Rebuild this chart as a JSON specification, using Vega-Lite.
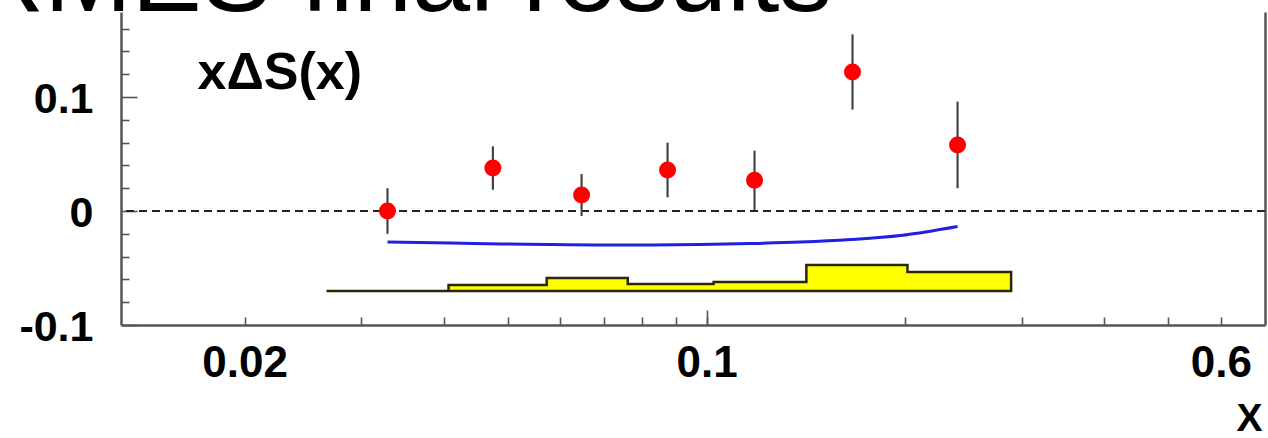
{
  "$schema": "https://vega.github.io/schema/vega-lite/v6.json",
  "width": 1144,
  "height": 313,
  "autosize": {"type": "none"},
  "padding": {"left": 121, "top": 12, "right": 3, "bottom": 113},
  "background": "white",
  "config": {
    "view": {"stroke": null},
    "axis": {"grid": false}
  },
  "datasets": {
    "points": [
      {"x": 0.0329, "v": 0.000, "lo": -0.020, "hi": 0.020},
      {"x": 0.0475, "v": 0.0377, "lo": 0.0187, "hi": 0.0567},
      {"x": 0.0647, "v": 0.014, "lo": -0.0044, "hi": 0.0324},
      {"x": 0.0873, "v": 0.036, "lo": 0.012, "hi": 0.060},
      {"x": 0.1182, "v": 0.027, "lo": 0.001, "hi": 0.053},
      {"x": 0.1663, "v": 0.122, "lo": 0.089, "hi": 0.155},
      {"x": 0.2398, "v": 0.058, "lo": 0.020, "hi": 0.096}
    ],
    "curve": [
      {"x": 0.0329, "v": -0.0272},
      {"x": 0.0410, "v": -0.0280},
      {"x": 0.0488, "v": -0.0289},
      {"x": 0.0581, "v": -0.0294},
      {"x": 0.0691, "v": -0.0298},
      {"x": 0.0823, "v": -0.0298},
      {"x": 0.0979, "v": -0.0294},
      {"x": 0.1166, "v": -0.0285},
      {"x": 0.1387, "v": -0.0272},
      {"x": 0.1651, "v": -0.0250},
      {"x": 0.1966, "v": -0.0215},
      {"x": 0.2398, "v": -0.0136}
    ],
    "bins": [
      {"lo": 0.0407, "hi": 0.0573, "top": -0.065},
      {"lo": 0.0573, "hi": 0.0760, "top": -0.0588},
      {"lo": 0.0760, "hi": 0.1025, "top": -0.064},
      {"lo": 0.1025, "hi": 0.1416, "top": -0.0623},
      {"lo": 0.1416, "hi": 0.2014, "top": -0.0474},
      {"lo": 0.2014, "hi": 0.289, "top": -0.0535}
    ],
    "outline": [
      {"i": 0, "x": 0.0266, "v": -0.0702},
      {"i": 1, "x": 0.0407, "v": -0.0702},
      {"i": 2, "x": 0.0407, "v": -0.065},
      {"i": 3, "x": 0.0573, "v": -0.065},
      {"i": 4, "x": 0.0573, "v": -0.0588},
      {"i": 5, "x": 0.0760, "v": -0.0588},
      {"i": 6, "x": 0.0760, "v": -0.064},
      {"i": 7, "x": 0.1025, "v": -0.064},
      {"i": 8, "x": 0.1025, "v": -0.0623},
      {"i": 9, "x": 0.1416, "v": -0.0623},
      {"i": 10, "x": 0.1416, "v": -0.0474},
      {"i": 11, "x": 0.2014, "v": -0.0474},
      {"i": 12, "x": 0.2014, "v": -0.0535},
      {"i": 13, "x": 0.289, "v": -0.0535},
      {"i": 14, "x": 0.289, "v": -0.0702},
      {"i": 15, "x": 0.0407, "v": -0.0702}
    ],
    "zero": [{"level": 0}]
  },
  "layer": [
    {
      "data": {"name": "bins"},
      "mark": {"type": "rect", "color": "#ffff00", "strokeWidth": 0},
      "encoding": {
        "x": {
          "field": "lo", "type": "quantitative",
          "scale": {"type": "log", "domain": [0.013, 0.7], "nice": false},
          "axis": {
            "orient": "bottom",
            "title": "X",
            "titleFont": "Liberation Sans",
            "titleFontWeight": "bold",
            "titleFontSize": 39,
            "titleColor": "#000000",
            "titleAlign": "right",
            "titleBaseline": "alphabetic",
            "titleX": 1141,
            "titleY": 105,
            "values": [0.02, 0.03, 0.04, 0.05, 0.06, 0.07, 0.08, 0.09, 0.1, 0.2, 0.3, 0.4, 0.5, 0.6],
            "labelExpr": "datum.value == 0.02 ? '0.02' : datum.value == 0.1 ? '0.1' : datum.value == 0.6 ? '0.6' : ''",
            "labelFont": "Liberation Sans",
            "labelFontWeight": "bold",
            "labelFontSize": 44,
            "labelColor": "#000000",
            "labelFlush": false,
            "labelOverlap": false,
            "labelBaseline": "top",
            "labelPadding": 24,
            "tickSize": -8,
            "tickColor": "#555555",
            "tickWidth": 1.6,
            "domainColor": "#555555",
            "domainWidth": 2.5
          }
        },
        "x2": {"field": "hi"},
        "y": {
          "field": "top", "type": "quantitative",
          "scale": {"domain": [-0.1, 0.1746], "nice": false, "zero": false},
          "axis": {
            "orient": "left",
            "title": "xΔS(x)",
            "titleFont": "Liberation Sans",
            "titleFontWeight": "bold",
            "titleFontSize": 52,
            "titleColor": "#000000",
            "titleAngle": 0,
            "titleAlign": "left",
            "titleBaseline": "alphabetic",
            "titleAnchor": null,
            "titleX": 76,
            "titleY": 76,
            "values": [-0.1, -0.08, -0.06, -0.04, -0.02, 0, 0.02, 0.04, 0.06, 0.08, 0.1, 0.12, 0.14, 0.16],
            "labelExpr": "abs(datum.value) < 1e-9 ? '0' : abs(datum.value - 0.1) < 1e-9 ? '0.1' : abs(datum.value + 0.1) < 1e-9 ? '-0.1' : ''",
            "labelFont": "Liberation Sans",
            "labelFontWeight": "bold",
            "labelFontSize": 43,
            "labelColor": "#000000",
            "labelFlush": false,
            "labelOverlap": false,
            "labelBaseline": "middle",
            "labelOffset": 2,
            "labelPadding": 44,
            "tickSize": {"condition": {"test": "abs(datum.value) < 1e-9 || abs(abs(datum.value) - 0.1) < 1e-9", "value": -16}, "value": -8},
            "tickColor": "#555555",
            "tickWidth": 1.6,
            "domainColor": "#555555",
            "domainWidth": 2.5
          }
        },
        "y2": {"datum": -0.0702}
      }
    },
    {
      "data": {"name": "outline"},
      "mark": {"type": "line", "color": "#2a2800", "strokeWidth": 2.5},
      "encoding": {
        "x": {
          "field": "x", "type": "quantitative",
          "scale": {"type": "log", "domain": [0.013, 0.7], "nice": false},
          "axis": {
            "orient": "top",
            "title": "HERMES final results",
            "titleFont": "Liberation Sans",
            "titleFontWeight": "normal",
            "titleFontSize": 105,
            "titleColor": "#000000",
            "titleAlign": "left",
            "titleBaseline": "alphabetic",
            "titleAngle": 0,
            "titleX": -299,
            "titleY": -2,
            "labels": false,
            "ticks": false,
            "domain": false,
            "grid": false
          }
        },
        "y": {"field": "v", "type": "quantitative", "scale": {"domain": [-0.1, 0.1746], "nice": false, "zero": false}, "axis": null},
        "order": {"field": "i", "type": "quantitative"}
      }
    },
    {
      "data": {"name": "curve"},
      "mark": {"type": "line", "color": "#2020e0", "strokeWidth": 3, "interpolate": "monotone"},
      "encoding": {
        "x": {
          "field": "x", "type": "quantitative",
          "scale": {"type": "log", "domain": [0.013, 0.7], "nice": false},
          "axis": {"orient": "bottom", "title": null, "values": [0.1], "labels": false, "domain": false, "grid": false, "tickSize": -15, "tickColor": "#555555", "tickWidth": 1.6}
        },
        "y": {"field": "v", "type": "quantitative", "scale": {"domain": [-0.1, 0.1746], "nice": false, "zero": false}, "axis": null}
      }
    },
    {
      "data": {"name": "zero"},
      "mark": {"type": "rule", "color": "#222222", "strokeWidth": 2, "strokeDash": [8, 5]},
      "encoding": {
        "y": {"field": "level", "type": "quantitative", "scale": {"domain": [-0.1, 0.1746], "nice": false, "zero": false}, "axis": null}
      }
    },
    {
      "data": {"name": "points"},
      "mark": {"type": "rule", "color": "#444444", "strokeWidth": 2.2},
      "encoding": {
        "x": {"field": "x", "type": "quantitative", "scale": {"type": "log", "domain": [0.013, 0.7], "nice": false}, "axis": null},
        "y": {"field": "lo", "type": "quantitative", "scale": {"domain": [-0.1, 0.1746], "nice": false, "zero": false}, "axis": null},
        "y2": {"field": "hi"}
      }
    },
    {
      "data": {"name": "points"},
      "mark": {"type": "circle", "color": "#ff0000", "opacity": 1, "size": 290},
      "encoding": {
        "x": {"field": "x", "type": "quantitative", "scale": {"type": "log", "domain": [0.013, 0.7], "nice": false}, "axis": null},
        "y": {
          "field": "v", "type": "quantitative",
          "scale": {"domain": [-0.1, 0.1746], "nice": false, "zero": false},
          "axis": {"orient": "right", "title": null, "labels": false, "ticks": false, "domain": true, "domainColor": "#555555", "domainWidth": 2.5}
        }
      }
    }
  ],
  "resolve": {"axis": {"x": "independent", "y": "independent"}}
}
